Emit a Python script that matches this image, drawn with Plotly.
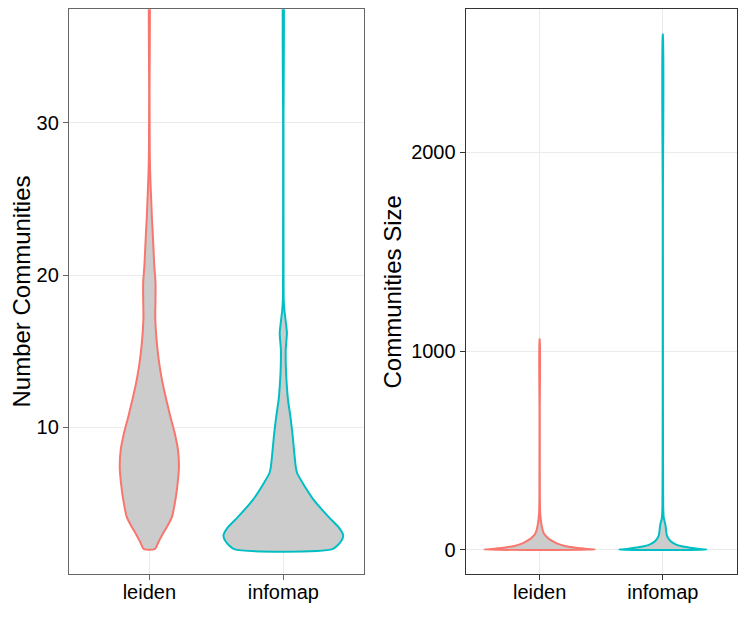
import plotly.graph_objects as go

# Gruppen und Farben (ggplot Standard)
groups = ["leiden", "infomap"]
colors = ["#F8766D", "#00BFC4"]

# Panel 1: Number Communities - Umriss als (Wert, halbe Breite in Kategorie-Einheiten)
num_leiden_y = [2.0, 2.5, 3.0, 3.5, 4.1, 5.2, 6.3, 7.4, 8.5, 9.6, 10.7, 11.8, 12.9, 14.0, 15.1,
                16.2, 17.3, 18.4, 19.5, 20.6, 21.7, 22.8, 23.8, 24.9, 26.0, 27.1, 28.2, 32.0, 40.0]
num_leiden_w = [0.040, 0.070, 0.100, 0.134, 0.168, 0.194, 0.211, 0.221, 0.214, 0.190, 0.157, 0.127,
                0.099, 0.077, 0.061, 0.050, 0.044, 0.046, 0.046, 0.037, 0.031, 0.025, 0.019, 0.014,
                0.009, 0.005, 0.003, 0.0015, 0.001]

num_infomap_y = [2.0, 2.5, 2.9, 3.4, 4.1, 5.2, 6.3, 7.0, 7.4, 8.5, 9.6, 10.7, 11.8, 12.9, 14.0,
                 15.1, 16.2, 16.8, 17.7, 18.4, 20.0, 25.0, 30.0, 40.0]
num_infomap_w = [0.367, 0.430, 0.447, 0.417, 0.340, 0.230, 0.148, 0.103, 0.093, 0.080, 0.068, 0.053,
                 0.035, 0.025, 0.019, 0.018, 0.027, 0.020, 0.008, 0.003, 0.002, 0.0015, 0.0015, 0.001]

# Panel 2: Communities Size
size_leiden_y = [1, 2, 4, 6, 9, 12, 20, 32, 45, 54, 66, 79, 95, 112, 140, 180, 250, 400, 700, 1059]
size_leiden_w = [0.448, 0.44, 0.41, 0.365, 0.325, 0.28, 0.205, 0.145, 0.104, 0.078, 0.057, 0.038,
                 0.027, 0.020, 0.012, 0.005, 0.002, 0.0015, 0.001, 0.001]

size_infomap_y = [1, 2, 5, 8, 12, 18, 28, 45, 70, 95, 113, 135, 160, 200, 310, 500, 1000, 1800, 2592]
size_infomap_w = [0.352, 0.348, 0.295, 0.255, 0.21, 0.155, 0.104, 0.061, 0.034, 0.027, 0.024,
                  0.018, 0.008, 0.004, 0.0025, 0.0015, 0.001, 0.001, 0.001]

num_ticks = [10, 20, 30]
size_ticks = [0, 1000, 2000]


def violin(pos, ys, ws, color, xa, ya):
    # Umriss: linke Seite hoch, rechte Seite runter, dann unten schliessen
    xs = [pos - w for w in ws] + [pos + w for w in ws[::-1]] + [pos - ws[0]]
    yy = list(ys) + list(ys[::-1]) + [ys[0]]
    return go.Scatter(x=xs, y=yy, mode="lines", fill="toself", fillcolor="#CCCCCC",
                      line=dict(color=color, width=2, shape="spline", smoothing=0.6),
                      xaxis=xa, yaxis=ya, showlegend=False, hoverinfo="skip")


fig = go.Figure()
fig.add_trace(violin(1, num_leiden_y, num_leiden_w, colors[0], "x", "y"))
fig.add_trace(violin(2, num_infomap_y, num_infomap_w, colors[1], "x", "y"))
fig.add_trace(violin(1, size_leiden_y, size_leiden_w, colors[0], "x2", "y2"))
fig.add_trace(violin(2, size_infomap_y, size_infomap_w, colors[1], "x2", "y2"))


def axis_style(line_col):
    return dict(showline=True, mirror=True, linecolor=line_col, linewidth=1.2,
                ticks="outside", ticklen=5, tickcolor=line_col, tickwidth=1,
                showgrid=True, gridcolor="#EBEBEB", gridwidth=1, zeroline=False,
                tickfont=dict(size=20, color="black"))


# Seite hat 8px body-margin, daher Figur etwas kleiner
fig.update_layout(
    width=739, height=615,
    margin=dict(l=0, r=0, t=0, b=0),
    paper_bgcolor="white", plot_bgcolor="white",
    font=dict(family="Liberation Sans, Arial, sans-serif", color="black"),
    xaxis=dict(domain=[0.0825, 0.4813], range=[0.4, 2.6], tickvals=[1, 2], ticktext=groups,
               ticklabelstandoff=-5, **axis_style("#666666")),
    yaxis=dict(domain=[0.0797, 0.9979], range=[0.37, 37.45], tickvals=num_ticks,
               **axis_style("#666666")),
    xaxis2=dict(domain=[0.6194, 0.9861], range=[0.4, 2.6], tickvals=[1, 2], ticktext=groups,
                anchor="y2", ticklabelstandoff=-5, **axis_style("#333333")),
    yaxis2=dict(domain=[0.0797, 0.9979], range=[-121, 2718], tickvals=size_ticks, anchor="x2",
                **axis_style("#333333")),
    annotations=[
        dict(text="Number Communities", x=0, y=0.539, xref="paper", yref="paper",
             textangle=-90, showarrow=False, font=dict(size=24), height=24, borderpad=0,
             xanchor="left", yanchor="middle"),
        dict(text="Communities Size", x=0.5196, y=0.539, xref="paper", yref="paper",
             textangle=-90, showarrow=False, font=dict(size=24), height=24, borderpad=0,
             xanchor="center", yanchor="middle"),
    ],
)

fig.write_html("out.html")
